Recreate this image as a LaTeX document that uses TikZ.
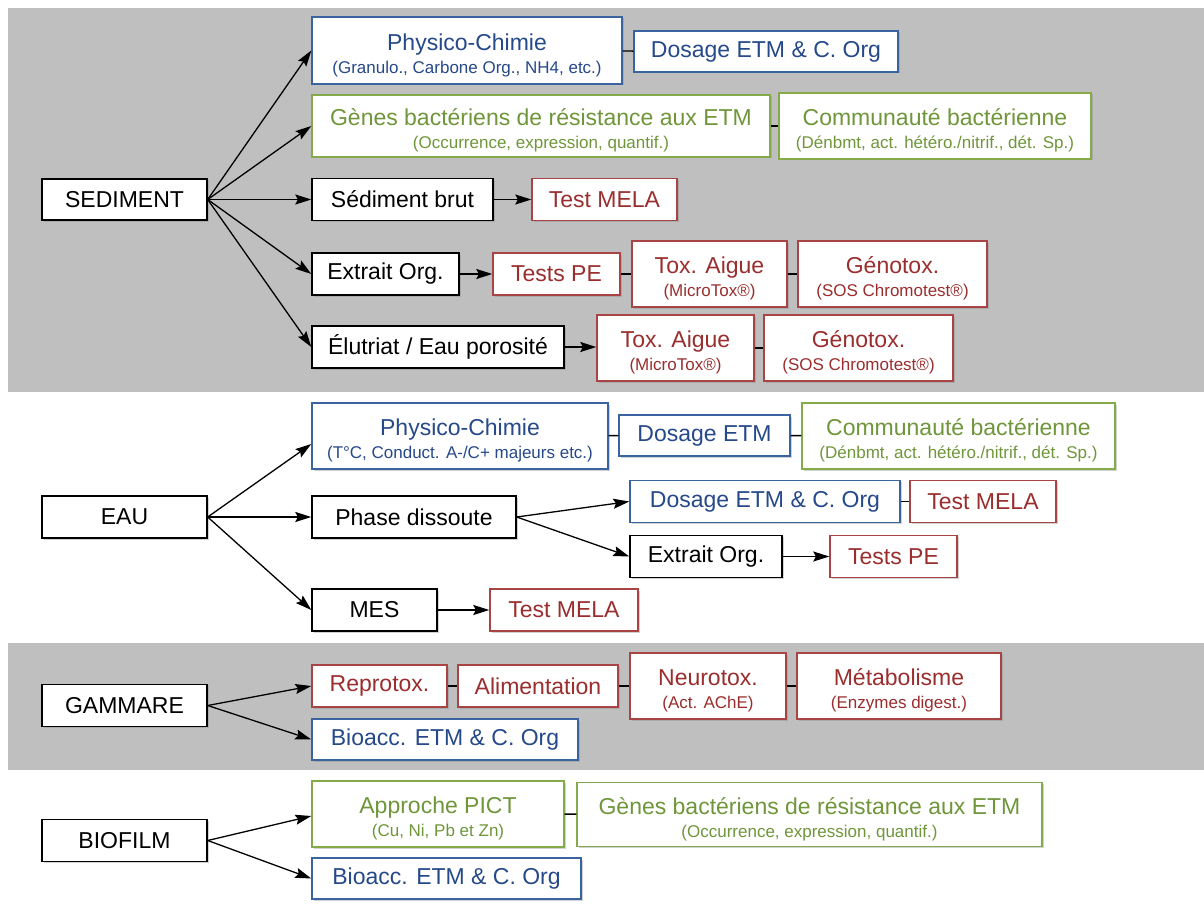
\documentclass[tikz,border=0pt]{standalone}
\usepackage{fontspec}
\setmainfont{Liberation Sans}
\usetikzlibrary{arrows.meta,shadows}
\definecolor{bandgrey}{HTML}{BFBFBF}
\definecolor{txtblue}{HTML}{26498A}
\definecolor{bordblue}{HTML}{3A64A0}
\definecolor{txtgreen}{HTML}{6F963A}
\definecolor{bordgreen}{HTML}{84AA4A}
\definecolor{txtred}{HTML}{9A2E2E}
\definecolor{bordred}{HTML}{A84444}
\newcommand\tl[2]{\rule{0pt}{26pt}#1\\[-3pt]{\fontsize{17}{19}\selectfont #2}}
\begin{document}
\begin{tikzpicture}[x=1pt,y=-1pt,
  box/.style={draw, line width=1.4pt, fill=white, inner sep=0pt, align=center,
    font=\fontsize{23}{26}\selectfont,
    drop shadow={shadow xshift=1.5pt,shadow yshift=-1.5pt,opacity=0.35}},
  sz/.style 2 args={minimum width=#1pt, minimum height=#2pt},
  blk/.style={box, draw=black, text=black},
  blu/.style={box, draw=bordblue, text=txtblue},
  grn/.style={box, draw=bordgreen, text=txtgreen},
  rd/.style={box, draw=bordred, text=txtred},
  arr/.style={-{Stealth[length=16pt,width=10pt,inset=2.5pt]}, line width=1.3pt},
  lnk/.style={line width=1.4pt}]
\useasboundingbox (0,0) rectangle (1204,904);
\fill[white] (0,0) rectangle (1204,904);
\fill[bandgrey] (8,8) rectangle (1204,392);
\fill[bandgrey] (8,643) rectangle (1204,770);

% SEDIMENT
\node[blk, sz={165}{41}] (sed) at (124.5,199.5) {SEDIMENT};
\node[blu, sz={310}{67}] (phys1) at (467,50.5) {\tl{Physico-Chimie}{(Granulo., Carbone Org., NH4, etc.)}};
\node[blu, sz={264}{41}] (dos1) at (766,51.5) {Dosage ETM \& C. Org};
\node[grn, sz={458}{62}] (genes1) at (541,126) {\tl{Gènes bactériens de résistance aux ETM}{(Occurrence, expression, quantif.)}};
\node[grn, sz={312}{66}] (comm1) at (935,126) {\tl{Communauté bactérienne}{(Dénbmt, act. hétéro./nitrif., dét. Sp.)}};
\node[blk, sz={181}{42}] (brut) at (402.5,199.5) {Sédiment brut};
\node[rd, sz={145}{42}] (mela1) at (604.5,199.5) {Test MELA};
\node[blk, sz={147}{42}] (ext1) at (385.5,274) {Extrait Org.};
\node[rd, sz={127}{42}] (pe1) at (556.5,274) {Tests PE};
\node[rd, sz={155}{66}] (tox1) at (709.5,274) {\tl{Tox. Aigue}{(MicroTox®)}};
\node[rd, sz={189}{66}] (geno1) at (892.5,274) {\tl{Génotox.}{(SOS Chromotest®)}};
\node[blk, sz={252}{42}] (elu) at (438,347) {Élutriat / Eau porosité};
\node[rd, sz={157}{66}] (tox2) at (675.5,348) {\tl{Tox. Aigue}{(MicroTox®)}};
\node[rd, sz={189}{66}] (geno2) at (858.5,348) {\tl{Génotox.}{(SOS Chromotest®)}};

\draw[arr] (sed.east) -- (phys1.west);
\draw[arr] (sed.east) -- (genes1.west);
\draw[arr] (sed.east) -- (brut.west);
\draw[arr] (sed.east) -- (ext1.west);
\draw[arr] (sed.east) -- (elu.west);
\draw[arr] (brut) -- (mela1);
\draw[arr] (ext1) -- (pe1);
\draw[arr] (elu.east) -- (tox2.west |- elu.east);
\draw[lnk] (phys1) -- (dos1);
\draw[lnk] (genes1) -- (comm1);
\draw[lnk] (pe1) -- (tox1);
\draw[lnk] (tox1) -- (geno1);
\draw[lnk] (tox2) -- (geno2);

% EAU
\node[blk, sz={165}{42}] (eau) at (124.5,517) {EAU};
\node[blu, sz={296}{66}] (phys2) at (460,436) {\tl{Physico-Chimie}{(T°C, Conduct. A-/C+ majeurs etc.)}};
\node[blu, sz={171}{41}] (dos2) at (704.5,435.5) {Dosage ETM};
\node[grn, sz={313}{66}] (comm2) at (958.5,436) {\tl{Communauté bactérienne}{(Dénbmt, act. hétéro./nitrif., dét. Sp.)}};
\node[blk, sz={204}{42}] (phd) at (414,517) {Phase dissoute};
\node[blu, sz={270}{42}] (dos3) at (765,501.5) {Dosage ETM \& C. Org};
\node[rd, sz={146}{42}] (mela2) at (983,501.5) {Test MELA};
\node[blk, sz={152}{42}] (ext2) at (706,556.5) {Extrait Org.};
\node[rd, sz={127}{42}] (pe2) at (893.5,556.5) {Tests PE};
\node[blk, sz={125}{42}] (mes) at (374.5,610) {MES};
\node[rd, sz={148}{42}] (mela3) at (564,610) {Test MELA};

\draw[arr] (eau.east) -- ([yshift=-8pt]phys2.west);
\draw[arr] (eau.east) -- (phd.west);
\draw[arr] (eau.east) -- (mes.west);
\draw[arr] (phd.east) -- (dos3.west);
\draw[arr] (phd.east) -- (ext2.west);
\draw[arr] (ext2) -- (pe2);
\draw[arr] (mes) -- (mela3);
\draw[lnk] (phys2) -- (dos2);
\draw[lnk] (dos2) -- (comm2);
\draw[lnk] (dos3) -- (mela2);

% GAMMARE
\node[blk, sz={165}{42}] (gam) at (124.5,705.5) {GAMMARE};
\node[rd, sz={135}{42}] (repro) at (379.5,686) {Reprotox.};
\node[rd, sz={160}{42}] (alim) at (538,686) {Alimentation};
\node[rd, sz={156}{66}] (neuro) at (708,686) {\tl{Neurotox.}{(Act. AChE)}};
\node[rd, sz={204}{66}] (meta) at (899,686) {\tl{Métabolisme}{(Enzymes digest.)}};
\node[blu, sz={266}{41}] (bio1) at (445,739.5) {Bioacc. ETM \& C. Org};

\draw[arr] (gam.east) -- (repro.west);
\draw[arr] (gam.east) -- (bio1.west);
\draw[lnk] (repro) -- (alim);
\draw[lnk] (alim) -- (neuro);
\draw[lnk] (neuro) -- (meta);

% BIOFILM
\node[blk, sz={165}{42}] (bf) at (124.5,840.5) {BIOFILM};
\node[grn, sz={252}{66}] (pict) at (438,814) {\tl{Approche PICT}{(Cu, Ni, Pb et Zn)}};
\node[grn, sz={465}{64}] (genes2) at (809.5,814.5) {\tl{Gènes bactériens de résistance aux ETM}{(Occurrence, expression, quantif.)}};
\node[blu, sz={269}{41}] (bio2) at (446.5,878.5) {Bioacc. ETM \& C. Org};

\draw[arr] (bf.east) -- ([yshift=-2pt]pict.west);
\draw[arr] (bf.east) -- (bio2.west);
\draw[lnk] (pict) -- (genes2);
\end{tikzpicture}
\end{document}
